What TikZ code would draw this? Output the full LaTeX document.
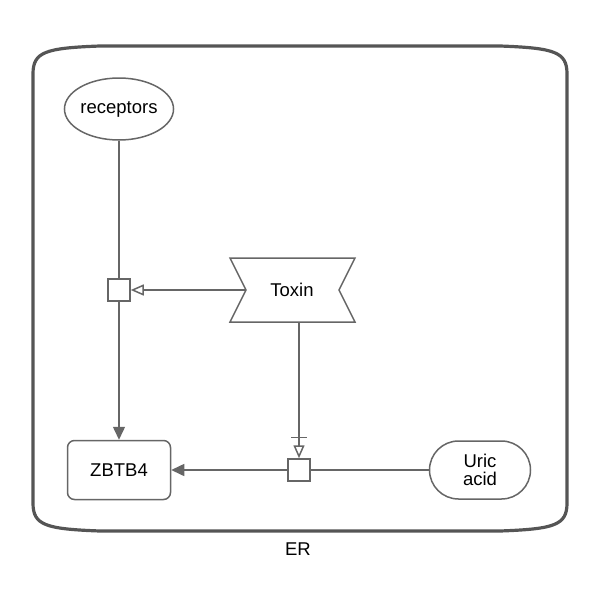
\documentclass[tikz,border=0pt]{standalone}
\usepackage{fontspec}
\setmainfont{Liberation Sans}
\usetikzlibrary{arrows.meta,shapes.geometric,calc}
\definecolor{ln}{HTML}{666666}
\definecolor{cmp}{HTML}{555555}
\tikzset{
  lbl/.style={font=\fontsize{18.5}{21}\selectfont},
  base/.style={draw=ln, line width=1.5pt, fill=white, lbl, inner sep=0pt},
  proc/.style={draw=ln, line width=1.5pt, fill=white, minimum size=22pt, inner sep=0pt},
  conn/.style={draw=ln, line width=1.5pt},
  prod/.style={conn, -{Triangle[length=13pt,width=12pt]}, color=ln},
  stim/.style={conn, -{Triangle[open,length=13pt,width=11pt,fill=white]}},
}
\begin{document}
\begin{tikzpicture}[x=1pt,y=-1pt]
\useasboundingbox (0,0) rectangle (600,600);
% compartment
\draw[cmp, line width=3.2pt]
  (33,74) .. controls (33,52) and (45,48) .. (100,46) -- (500,46)
  .. controls (555,48) and (567,52) .. (567,74) -- (567,503)
  .. controls (567,525) and (555,529) .. (500,531) -- (100,531)
  .. controls (45,529) and (33,525) .. (33,503) -- cycle;
\node[lbl] (er) at (298,549) {ER};
% nodes
\node[base, ellipse, minimum width=102pt, minimum height=62pt] (rec) at (119,109) {receptors};
\node[base, rounded corners=7pt, minimum width=103pt, minimum height=59pt] (zb) at (119,470) {ZBTB4};
\node[base, rounded corners=29pt, minimum width=101pt, minimum height=58pt, align=center] (uric) at (480,470) {Uric\\[-3pt]acid};
\node[proc] (p1) at (119,290) {};
\node[proc] (p2) at (299,470) {};
% Toxin (perturbing agent)
\coordinate (tl) at (230,258);
\coordinate (tr) at (355,258);
\coordinate (bl) at (230,322);
\coordinate (br) at (355,322);
\coordinate (tn) at (246,290);
\coordinate (tne) at (339,290);
\coordinate (tb) at (299,322);
\draw[ln, line width=1.5pt, fill=white] (tl) -- (tn) -- (bl) -- (br) -- (tne) -- (tr) -- cycle;
\node[lbl] (tox) at (292,290) {Toxin};
% connectors
\draw[conn] (rec.south) -- (p1.north);
\draw[prod] (p1.south) -- (zb.north);
\draw[stim] (tn) -- (p1.east);
\draw[conn] (uric.west) -- (p2.east);
\draw[prod] (p2.west) -- (zb.east);
\draw[stim] (tb) -- (p2.north);
\draw[conn] ($(p2.north)+(-8,-21)$) -- ($(p2.north)+(8,-21)$);
\end{tikzpicture}
\end{document}
